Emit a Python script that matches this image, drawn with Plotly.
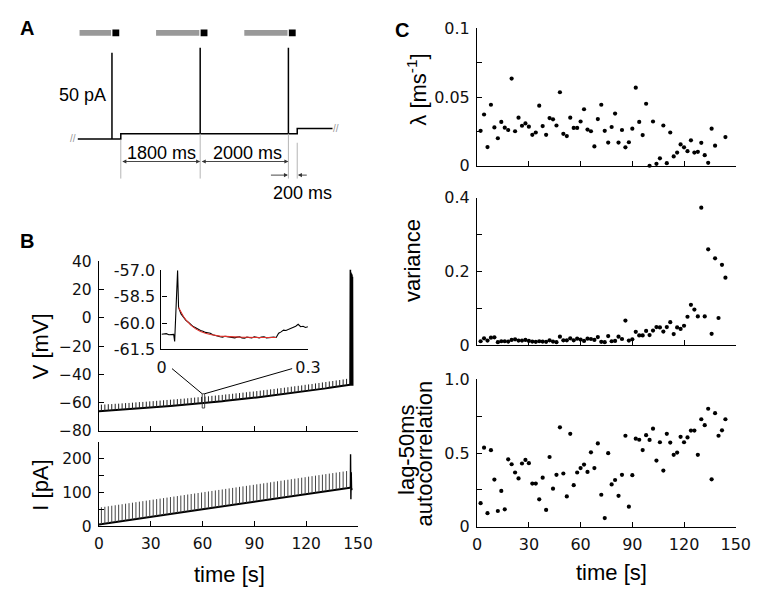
import plotly.graph_objects as go

W, H = 760, 591
def PX(x): return x / W
def PY(y): return 1 - y / H

# ---------------- Panel A (protocol schematic) ----------------
a_step_times = [-975, 0, 4000, 4800]      # ms, level changes (start, step, step, end)
a_levels = [0, 3, 6]                       # pA baseline levels
a_pulse_times = [-200, 1800, 3800]         # ms
a_pulse_amp = 50                           # pA
a_bar_starts = [-935, 800, 2800]           # ms, gray bar starts

# ---------------- Panel B (voltage / current traces) ----------------
pulse_t = [1.4, 3.4, 5.4, 7.4, 9.4, 11.4, 13.4, 15.4, 17.4, 19.4,
           21.4, 23.4, 25.4, 27.4, 29.4, 31.4, 33.4, 35.4, 37.4, 39.4,
           41.4, 43.4, 45.4, 47.4, 49.4, 51.4, 53.4, 55.4, 57.4, 59.4,
           61.4, 63.4, 65.4, 67.4, 69.4, 71.4, 73.4, 75.4, 77.4, 79.4,
           81.4, 83.4, 85.4, 87.4, 89.4, 91.4, 93.4, 95.4, 97.4, 99.4,
           101.4, 103.4, 105.4, 107.4, 109.4, 111.4, 113.4, 115.4, 117.4, 119.4,
           121.4, 123.4, 125.4, 127.4, 129.4, 131.4, 133.4, 135.4, 137.4, 139.4,
           141.4, 143.4]
v_base = [-65.9, -65.8, -65.6, -65.5, -65.3, -65.2, -65.0, -64.8, -64.7, -64.5,
          -64.3, -64.1, -64.0, -63.8, -63.6, -63.4, -63.2, -63.0, -62.8, -62.6,
          -62.4, -62.2, -62.0, -61.8, -61.6, -61.4, -61.1, -60.9, -60.7, -60.4,
          -60.2, -60.0, -59.7, -59.5, -59.2, -59.0, -58.7, -58.5, -58.2, -57.9,
          -57.7, -57.4, -57.1, -56.8, -56.6, -56.3, -56.0, -55.7, -55.4, -55.1,
          -54.8, -54.5, -54.2, -53.9, -53.6, -53.2, -52.9, -52.6, -52.3, -51.9,
          -51.6, -51.3, -50.9, -50.6, -50.2, -49.9, -49.5, -49.2, -48.8, -48.5,
          -48.1, -47.7]
v_pulse_amp = 4.5
i_base = [6.1, 7.6, 9.1, 10.6, 12.1, 13.7, 15.2, 16.7, 18.2, 19.7,
          21.3, 22.8, 24.3, 25.8, 27.3, 28.9, 30.4, 31.9, 33.4, 34.9,
          36.5, 38.0, 39.5, 41.0, 42.5, 44.1, 45.6, 47.1, 48.6, 50.1,
          51.7, 53.2, 54.7, 56.2, 57.7, 59.3, 60.8, 62.3, 63.8, 65.3,
          66.9, 68.4, 69.9, 71.4, 72.9, 74.5, 76.0, 77.5, 79.0, 80.5,
          82.1, 83.6, 85.1, 86.6, 88.1, 89.7, 91.2, 92.7, 94.2, 95.7,
          97.3, 98.8, 100.3, 101.8, 103.3, 104.9, 106.4, 107.9, 109.4, 110.9,
          112.5, 114.0]
i_pulse_amp = 50
v_start = (0.0, -66.0)
v_end = (145.4, -47.4)
i_start = (0.0, 5.0)
i_end = (145.4, 114.5)
# final spike train at end of ramp
v_spike_t = [145.6, 145.9, 146.2, 146.5, 146.8]
v_spike_peak = [34.0, 32.0, 31.0, 30.0, 29.0]
v_spike_trough = -48.0
i_spike_t = [145.6, 145.7, 145.9, 146.1, 146.3, 146.5, 146.7]
i_spike_v = [114.5, 214.0, 80.0, 160.0, 108.0, 150.0, 112.0]

# inset: zoom around one pulse (seconds, mV)
inset_t = [0.0, 0.005, 0.01, 0.015, 0.02, 0.025, 0.027, 0.033, 0.035, 0.04,
           0.045, 0.05, 0.055, 0.06, 0.065, 0.07, 0.075, 0.08, 0.085, 0.09,
           0.095, 0.10, 0.105, 0.11, 0.115, 0.12, 0.125, 0.13, 0.135, 0.14,
           0.145, 0.15, 0.155, 0.16, 0.165, 0.17, 0.175, 0.18, 0.185, 0.19,
           0.195, 0.20, 0.205, 0.21, 0.215, 0.22, 0.225, 0.23, 0.235, 0.24,
           0.245, 0.25, 0.255, 0.26, 0.265, 0.27, 0.275, 0.28, 0.285, 0.29,
           0.295, 0.30]
inset_v = [-60.64, -60.62, -60.60, -60.66, -60.67, -60.64, -61.04, -57.0, -59.11, -59.48,
           -59.66, -59.85, -59.95, -60.09, -60.20, -60.27, -60.36, -60.42, -60.46, -60.53,
           -60.55, -60.58, -60.66, -60.71, -60.74, -60.78, -60.80, -60.75, -60.77, -60.78,
           -60.83, -60.84, -60.80, -60.78, -60.84, -60.86, -60.80, -60.82, -60.85, -60.78,
           -60.82, -60.84, -60.80, -60.78, -60.84, -60.82, -60.78, -60.80, -60.82, -60.58,
           -60.50, -60.40, -60.42, -60.36, -60.30, -60.25, -60.18, -60.07, -60.21, -60.18,
           -60.25, -60.21]
fit_t = [0.035, 0.04, 0.045, 0.05, 0.06, 0.07, 0.08, 0.09, 0.10, 0.12, 0.14, 0.16, 0.20, 0.235]
fit_v = [-59.12, -59.40, -59.63, -59.82, -60.12, -60.33, -60.48, -60.58, -60.65, -60.74,
         -60.78, -60.80, -60.82, -60.82]

# ---------------- Panel C (statistics per window) ----------------
c_time = [2, 4, 6, 8, 10, 12, 14, 16, 18, 20, 22, 24, 26, 28, 30, 32, 34, 36, 38, 40,
          42, 44, 46, 48, 50, 52, 54, 56, 58, 60, 62, 64, 66, 68, 70, 72, 74, 76, 78, 80,
          82, 84, 86, 88, 90, 92, 94, 96, 98, 100, 102, 104, 106, 108, 110, 112, 114, 116, 118, 120,
          122, 124, 126, 128, 130, 132, 134, 136, 138, 140, 142, 144]
lam_time = [2, 4, 6, 8, 10, 12, 14, 16, 18, 20, 22, 24, 26, 28, 30, 32, 34, 36, 38, 40,
            42, 44, 46, 48, 50, 52, 54, 56, 58, 60, 62, 64, 66, 68, 70, 72, 74, 76, 78, 80,
            82, 84, 86, 88, 90, 92, 94, 96, 98, 100, 102, 104, 106, 108, 110, 112, 114, 116, 118, 120,
            122, 124, 126, 128, 130, 132, 134, 136, 138, 144]
lam = [0.0254, 0.0373, 0.0136, 0.0444, 0.0279, 0.0200, 0.0319, 0.0277, 0.0260, 0.0634,
       0.0251, 0.0350, 0.0291, 0.0308, 0.0284, 0.0225, 0.0242, 0.0437, 0.0289, 0.0225,
       0.0347, 0.0338, 0.0293, 0.0535, 0.0232, 0.0216, 0.0350, 0.0275, 0.0275, 0.0322,
       0.0411, 0.0263, 0.0251, 0.0141, 0.0340, 0.0444, 0.0254, 0.0169, 0.0282, 0.0380,
       0.0169, 0.0260, 0.0134, 0.0171, 0.0270, 0.0568, 0.0319, 0.0223, 0.0451, 0.0000,
       0.0322, 0.0014, 0.0054, 0.0293, 0.0019, 0.0242, 0.0068, 0.0096, 0.0155, 0.0134,
       0.0106, 0.0185, 0.0096, 0.0101, 0.0167, 0.0077, 0.0021, 0.0270, 0.0146, 0.0209]
variance = [0.0105, 0.0184, 0.0123, 0.0201, 0.0210, 0.0079, 0.0105, 0.0105, 0.0096, 0.0140,
            0.0158, 0.0123, 0.0123, 0.0140, 0.0114, 0.0096, 0.0088, 0.0105, 0.0096, 0.0088,
            0.0131, 0.0096, 0.0079, 0.0228, 0.0131, 0.0131, 0.0184, 0.0131, 0.0175, 0.0149,
            0.0114, 0.0175, 0.0166, 0.0140, 0.0219, 0.0088, 0.0079, 0.0245, 0.0105, 0.0114,
            0.0228, 0.0166, 0.0665, 0.0123, 0.0158, 0.0359, 0.0263, 0.0263, 0.0385, 0.0271,
            0.0394, 0.0490, 0.0481, 0.0368, 0.0490, 0.0621, 0.0298, 0.0481, 0.0438, 0.0525,
            0.0770, 0.1094, 0.0963, 0.0779, 0.3729, 0.0779, 0.2600, 0.0306, 0.2354, 0.0735,
            0.2179, 0.1829]
autocorr = [0.160, 0.536, 0.092, 0.519, 0.320, 0.107, 0.243, 0.118, 0.457, 0.424,
            0.368, 0.328, 0.429, 0.453, 0.431, 0.293, 0.293, 0.186, 0.333, 0.114,
            0.473, 0.258, 0.352, 0.674, 0.361, 0.206, 0.630, 0.282, 0.368, 0.398,
            0.422, 0.372, 0.505, 0.398, 0.565, 0.217, 0.059, 0.499, 0.287, 0.317,
            0.210, 0.352, 0.617, 0.136, 0.350, 0.597, 0.590, 0.520, 0.621, 0.589,
            0.665, 0.449, 0.573, 0.381, 0.630, 0.571, 0.488, 0.503, 0.610, 0.573,
            0.606, 0.652, 0.652, 0.488, 0.729, 0.689, 0.800, 0.322, 0.770, 0.617,
            0.654, 0.729]

time_ticks = [0, 30, 60, 90, 120, 150]

# ======================================================================
fig = go.Figure()

# ---- Panel A trace ----
ax_t, ax_v = [a_step_times[0]], [a_levels[0]]
lvl_idx = 0
events = sorted([(t, 'p') for t in a_pulse_times] + [(t, 's') for t in a_step_times[1:-1]])
for t, kind in events:
    lv = a_levels[lvl_idx]
    if kind == 'p':
        ax_t += [t, t, t]
        ax_v += [lv, lv + a_pulse_amp, lv]
    else:
        lvl_idx += 1
        ax_t += [t, t]
        ax_v += [lv, a_levels[lvl_idx]]
ax_t.append(a_step_times[-1]); ax_v.append(a_levels[lvl_idx])
fig.add_trace(go.Scatter(x=ax_t, y=ax_v, mode='lines', line=dict(color='black', width=1.5),
                         xaxis='x', yaxis='y', hoverinfo='skip'))

# ---- Panel B: voltage ----
vb_x = [v_start[0]] + pulse_t + [v_end[0]]
vb_y = [v_start[1]] + v_base + [v_end[1]]
fig.add_trace(go.Scatter(x=vb_x, y=vb_y, mode='lines', line=dict(color='black', width=2),
                         xaxis='x2', yaxis='y2', hoverinfo='skip'))
tick_x, tick_y = [], []
for t, b in zip(pulse_t, v_base):
    tick_x += [t, t, None]
    tick_y += [b, b + v_pulse_amp, None]
fig.add_trace(go.Scatter(x=tick_x, y=tick_y, mode='lines', line=dict(color='#222', width=1),
                         xaxis='x2', yaxis='y2', hoverinfo='skip'))
sp_x, sp_y = [v_end[0]], [v_end[1]]
for t, p in zip(v_spike_t, v_spike_peak):
    sp_x += [t, t + 0.15]
    sp_y += [p, v_spike_trough]
fig.add_trace(go.Scatter(x=sp_x, y=sp_y, mode='lines', line=dict(color='black', width=1.6),
                         xaxis='x2', yaxis='y2', hoverinfo='skip'))

# ---- Panel B: current ----
ib_x = [i_start[0]] + pulse_t + [i_end[0]]
ib_y = [i_start[1]] + i_base + [i_end[1]]
fig.add_trace(go.Scatter(x=ib_x, y=ib_y, mode='lines', line=dict(color='black', width=2),
                         xaxis='x3', yaxis='y3', hoverinfo='skip'))
ip_x, ip_y = [], []
for t, b in zip(pulse_t, i_base):
    ip_x += [t, t, None]
    ip_y += [b, b + i_pulse_amp, None]
fig.add_trace(go.Scatter(x=ip_x, y=ip_y, mode='lines', line=dict(color='#444', width=1),
                         xaxis='x3', yaxis='y3', hoverinfo='skip'))
fig.add_trace(go.Scatter(x=i_spike_t, y=i_spike_v, mode='lines', line=dict(color='black', width=1.4),
                         xaxis='x3', yaxis='y3', hoverinfo='skip'))

# ---- Inset ----
fig.add_trace(go.Scatter(x=inset_t, y=inset_v, mode='lines', line=dict(color='black', width=1.1),
                         xaxis='x4', yaxis='y4', hoverinfo='skip'))
fig.add_trace(go.Scatter(x=fit_t, y=fit_v, mode='lines', line=dict(color='#e0302a', width=1.1),
                         xaxis='x4', yaxis='y4', hoverinfo='skip'))

# ---- Panel C ----
mk = dict(color='black', size=4.2)
fig.add_trace(go.Scatter(x=lam_time, y=lam, mode='markers', marker=mk, cliponaxis=False,
                         xaxis='x5', yaxis='y5', hoverinfo='skip'))
fig.add_trace(go.Scatter(x=c_time, y=variance, mode='markers', marker=mk, cliponaxis=False,
                         xaxis='x6', yaxis='y6', hoverinfo='skip'))
fig.add_trace(go.Scatter(x=c_time, y=autocorr, mode='markers', marker=mk, cliponaxis=False,
                         xaxis='x7', yaxis='y7', hoverinfo='skip'))

# ======================================================================
TF = 'DejaVu Sans'
LF = 'Liberation Sans, Arial, sans-serif'
FB = dict(family=TF, size=15.5, color='#111')
FC = dict(family=TF, size=16, color='#111')

def axs(**kw):
    d = dict(showline=True, linecolor='black', linewidth=1.3, ticks='inside', ticklen=5,
             tickcolor='black', tickwidth=1.1, showgrid=False, zeroline=False,
             tickfont=FB, fixedrange=True,
             tickmode='array', ticklabelstandoff=3)
    d.update(kw)
    return d

xB = [PX(88.3), PX(354.3)]
xC = [PX(476.7), PX(742.3)]

layout = dict(
    width=W, height=H, margin=dict(l=0, r=0, t=0, b=0),
    paper_bgcolor='white', plot_bgcolor='rgba(0,0,0,0)', showlegend=False,
    # panel A
    xaxis=dict(domain=[PX(50), PX(345)], range=[-1340, 5172], visible=False, fixedrange=True),
    yaxis=dict(domain=[PY(190), PY(10)], range=[-35.96, 65.17], visible=False, fixedrange=True),
    # panel B voltage
    xaxis2=axs(domain=xB, range=[0, 150], anchor='y2', tickvals=time_ticks, ticktext=[''] * 6),
    yaxis2=axs(domain=[PY(427.7), PY(252.3)], range=[-80, 40], anchor='x2',
               tickvals=[-80, -60, -40, -20, 0, 20, 40],
               ticktext=['\u221280', '\u221260', '\u221240', '\u221220', '0', '20', '40']),
    # panel B current
    xaxis3=axs(domain=xB, range=[0, 150], anchor='y3', tickvals=time_ticks,
               ticktext=[str(v) for v in time_ticks]),
    yaxis3=axs(domain=[PY(526), PY(439.3)], range=[0, 250], anchor='x3',
               tickvals=[0, 50, 100, 150, 200, 250], ticktext=['0', '', '100', '', '200', '']),
    # inset
    xaxis4=axs(domain=[PX(152.5), PX(302.9)], range=[0, 0.3], anchor='y4', tickvals=[0, 0.3],
               ticktext=['0', '0.3'], tickfont=FC, linewidth=1.1),
    yaxis4=axs(domain=[PY(343.5), PY(261.7)], range=[-61.5, -57.0], anchor='x4',
               tickvals=[-61.5, -60.0, -58.5, -57.0], ticktext=['-61.5', '-60.0', '-58.5', '-57.0'],
               tickfont=FC, linewidth=1.1, ticklabelstandoff=2),
    # panel C
    xaxis5=axs(domain=xC, range=[0, 150], anchor='y5', tickvals=time_ticks, ticktext=[''] * 6),
    yaxis5=axs(domain=[PY(153.7), PY(11.7)], range=[0, 0.1], anchor='x5',
               tickvals=[0, 0.025, 0.05, 0.075, 0.1], ticktext=['0', '', '0.05', '', '0.1'],
               tickfont=FC),
    xaxis6=axs(domain=xC, range=[0, 150], anchor='y6', tickvals=time_ticks, ticktext=[''] * 6),
    yaxis6=axs(domain=[PY(339), PY(186.7)], range=[0, 0.4], anchor='x6',
               tickvals=[0, 0.1, 0.2, 0.3, 0.4], ticktext=['0', '', '0.2', '', '0.4'],
               tickfont=FC),
    xaxis7=axs(domain=xC, range=[0, 150], anchor='y7', tickvals=time_ticks,
               ticktext=[str(v) for v in time_ticks], tickfont=FC),
    yaxis7=axs(domain=[PY(526.7), PY(374.3)], range=[0, 1.0], anchor='x7',
               tickvals=[0, 0.25, 0.5, 0.75, 1.0], ticktext=['0', '', '0.5', '', '1.0'],
               tickfont=FC),
)
fig.update_layout(**layout)

# ---- shapes ----
shapes = []
for p, s in zip(a_pulse_times, a_bar_starts):
    shapes.append(dict(type='rect', xref='x', yref='y', x0=s, x1=p - 20, y0=59.9, y1=63.3,
                       fillcolor='#999999', line=dict(width=0)))
    shapes.append(dict(type='rect', xref='x', yref='y', x0=p + 10, x1=p + 165, y0=59.6, y1=63.6,
                       fillcolor='black', line=dict(width=0)))
# guide lines in panel A
for gx, gy0 in [(0, -0.5), (a_pulse_times[1], 3), (a_pulse_times[2], 3), (a_step_times[2], -2.2)]:
    shapes.append(dict(type='line', xref='x', yref='y', x0=gx, x1=gx, y0=gy0, y1=-23,
                       line=dict(color='#b5b5b5', width=1)))
# zoom box + connectors in panel B
shapes.append(dict(type='rect', xref='x2', yref='y2', x0=59.8, x1=61.2, y0=-63.8, y1=-53.7,
                   line=dict(color='#333', width=0.9)))
shapes.append(dict(type='line', xref='paper', yref='paper', x0=PX(163.3), y0=PY(363.3),
                   x1=PX(194.3), y1=PY(389.3), line=dict(color='black', width=1)))
shapes.append(dict(type='line', xref='paper', yref='paper', x0=PX(286.7), y0=PY(363.3),
                   x1=PX(196.7), y1=PY(389.3), line=dict(color='black', width=1)))
fig.update_layout(shapes=shapes)

# ---- annotations ----
ann = []
def txt(x, y, s, size=18, ref='paper', angle=0, bold=False, color='black', family=LF, **kw):
    d = dict(x=x, y=y, text=('<b>%s</b>' % s) if bold else s, showarrow=False,
             xref=ref if ref == 'paper' else ref[0], yref=ref if ref == 'paper' else ref[1],
             font=dict(family=family, size=size, color=color), textangle=angle,
             xanchor='center', yanchor='middle')
    d.update(kw)
    ann.append(d)

# panel letters
txt(PX(14), PY(11), 'A', size=20, bold=True)
txt(PX(14), PY(231), 'B', size=20, bold=True)
txt(PX(399), PY(13), 'C', size=20, bold=True)
# panel A texts
txt(-876, 25.6, '50 pA', ref=('x', 'y'))
txt(934, -8.3, '1800 ms', ref=('x', 'y'))
txt(2865, -8.3, '2000 ms', ref=('x', 'y'))
txt(4113, -31.2, '200 ms', ref=('x', 'y'))
txt(-1075, 0, '//', size=10, ref=('x', 'y'), color='#999')
txt(4880, 6, '//', size=10, ref=('x', 'y'), color='#999')
# arrows panel A
for x0, x1 in [(0, a_pulse_times[1]), (a_pulse_times[1], a_pulse_times[2])]:
    ann.append(dict(x=x1, y=-13.1, ax=x0, ay=-13.1, xref='x', yref='y', axref='x', ayref='y',
                    text='', showarrow=True, arrowhead=2, arrowsize=0.9, arrowwidth=0.9,
                    arrowside='end+start', arrowcolor='#333'))
for x0, x1 in [(3370, a_pulse_times[2] - 10), (4250, a_step_times[2] + 15)]:
    ann.append(dict(x=x1, y=-21, ax=x0, ay=-21, xref='x', yref='y', axref='x', ayref='y',
                    text='', showarrow=True, arrowhead=2, arrowsize=0.9, arrowwidth=0.9,
                    arrowcolor='#333'))
# axis titles
txt(PX(28), PY(340), 'V [mV]', size=22, angle=-90)
txt(PX(28), PY(484), 'I [pA]', size=22, angle=-90)
txt(PX(222), PY(576), 'time [s]', size=22)
txt(PX(414), PY(75), '\u03bb [ms<sup>-1</sup>]', size=22, angle=-90)
txt(PX(411), PY(252), 'variance', size=22, angle=-90)
txt(PX(404), PY(447), 'lag-50ms', size=22, angle=-90)
txt(PX(422.5), PY(450.5), 'autocorrelation', size=22, angle=-90)
txt(PX(615), PY(574), 'time [s]', size=22)
fig.update_layout(annotations=ann)

fig.write_html('out.html')
